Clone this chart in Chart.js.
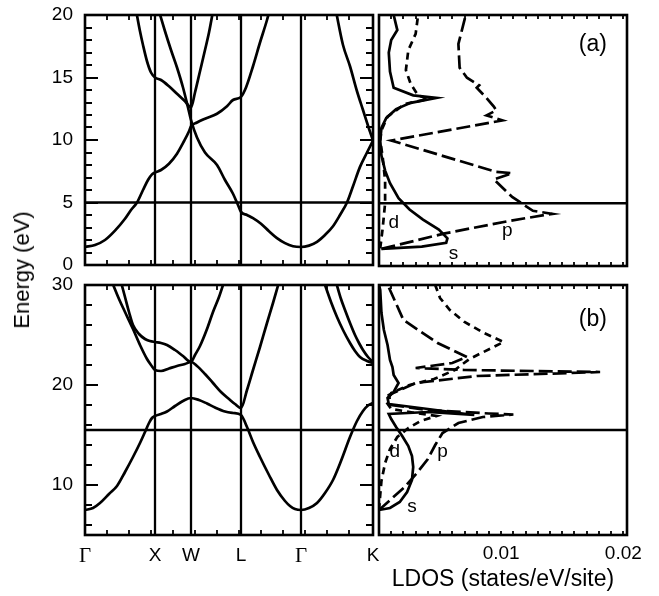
<!DOCTYPE html>
<html>
<head>
<meta charset="utf-8">
<script src="https://cdn.jsdelivr.net/npm/chart.js@4.4.1/dist/chart.umd.min.js"></script>
<style>
  html, body { margin: 0; padding: 0; background: #fff; }
  #fig { position: relative; width: 659px; height: 596px; overflow: hidden; font-family: "Liberation Sans", Arial, sans-serif; }
  #fig canvas { position: absolute; }
  #ylabel { position: absolute; left: 22px; top: 270px; transform: translate(-50%, -50%) rotate(-90deg); font-size: 22px; white-space: nowrap; color: #000; }
</style>
</head>
<body>
<div id="fig">
  <canvas id="bandA" width="380" height="280" style="left:0;top:0"></canvas>
  <canvas id="ldosA" width="283" height="280" style="left:376px;top:0"></canvas>
  <canvas id="bandB" width="380" height="326" style="left:0;top:270px"></canvas>
  <canvas id="ldosB" width="283" height="326" style="left:376px;top:270px"></canvas>
  <div id="ylabel">Energy (eV)</div>
</div>
<script>
"use strict";

// k-path positions (path length units) and their labels
const kPoints = [0, 70, 106, 156, 216, 288];
const kLabels = ["Γ", "X", "W", "L", "Γ", "K"];
const energyTicksA = [0, 5, 10, 15, 20];
const energyTicksB = [10, 20, 30];
const ldosTicks = [0.01, 0.02];
const fermiA = 5;
const fermiB = 15.5;

// panel (a) bands: [k, E]
const bandA1 = [[0,1.44],[10,1.6],[20,2.0],[30,2.75],[40,3.7],[46,4.4],[52,5.0],[58,6.0],[63,6.8],[67,7.25],[70,7.4],[76,7.6],[84,8.1],[92,8.9],[99,9.9],[104,10.7],[106,11.1],[112,11.4],[120,11.7],[132,12.1],[142,12.7],[148,13.2],[156,13.45],[161,14.2],[168,15.9],[175,17.8],[182,19.6],[184,20.2]];
const bandA2 = [[51,20.4],[55,18.7],[58,17.6],[62,16.3],[66,15.4],[70,15.0],[76,14.8],[84,14.3],[92,13.7],[100,13.1],[106,12.6],[110,13.8],[115,15.5],[120,17.2],[124,18.6],[128,20.3]];
const bandA3 = [[74,20.3],[80,18.7],[86,17.2],[92,15.8],[98,14.2],[103,12.6],[106,11.6],[112,10.2],[120,9.0],[132,8.0],[140,6.8],[148,5.7],[153,4.8],[156,4.25],[162,4.0],[168,3.75],[176,3.3],[184,2.7],[192,2.15],[200,1.75],[208,1.5],[216,1.44],[224,1.55],[232,1.85],[240,2.4],[248,3.1],[255,4.0],[262,5.0],[268,6.3],[275,7.85],[282,9.0],[288,9.95]];
const bandA4 = [[251,20.3],[258,17.6],[265,15.9],[272,13.9],[278,12.4],[284,10.9],[288,9.95]];

// panel (b) bands: [k, E]
const bandB1 = [[0,7.5],[8,7.7],[15,8.2],[24,9.1],[32,9.9],[40,11.3],[48,12.8],[55,14.2],[60,15.3],[64,16.2],[67,16.7],[70,16.9],[76,17.1],[82,17.35],[90,17.9],[98,18.4],[106,18.7],[114,18.5],[122,18.15],[130,17.75],[140,17.35],[148,17.2],[156,17.0],[162,15.8],[168,14.3],[175,12.8],[184,11.0],[192,9.5],[200,8.4],[205,7.9],[210,7.6],[216,7.5],[224,7.7],[232,8.2],[240,9.2],[248,10.5],[256,12.4],[265,14.8],[272,16.4],[278,17.4],[283,17.95],[288,18.2]];
const bandB2 = [[27,30.3],[34,28.6],[40,27.3],[48,25.6],[55,24.0],[62,22.6],[66,22.0],[70,21.5],[76,21.4],[84,21.65],[92,21.9],[100,22.1],[106,22.3],[112,21.9],[120,21.1],[128,20.2],[136,19.3],[144,18.6],[150,18.1],[156,17.7],[162,19.5],[168,21.5],[175,23.8],[182,26.2],[188,28.2],[194,30.3]];
const bandB3 = [[36,30.3],[40,28.8],[44,27.3],[48,26.0],[54,25.1],[60,24.6],[65,24.4],[70,24.3],[76,24.2],[82,24.0],[90,23.5],[98,22.9],[106,22.3],[110,23.0],[115,23.9],[122,25.6],[128,27.3],[134,28.8],[139,30.3]];
const bandB4 = [[239,30.3],[246,28.3],[252,26.8],[258,25.5],[265,24.2],[270,23.4],[275,22.8],[282,22.4],[288,22.2]];
const bandB5 = [[251,30.3],[256,28.6],[260,27.5],[265,26.2],[270,25.0],[274,24.2],[278,23.5],[283,22.8],[288,22.3]];

// LDOS: [states/eV/site, E]
const ldosA_s = [[0.0002,1.36],[0.0035,1.55],[0.0055,1.85],[0.0056,2.2],[0.0049,2.9],[0.0036,3.7],[0.0025,4.5],[0.0016,5.4],[0.0009,6.6],[0.0005,7.6],[0.0002,8.8],[0.0001,10.0],[0.0002,11.0],[0.0006,11.8],[0.0014,12.5],[0.0026,13.0],[0.0047,13.4],[0.0028,13.6],[0.0012,14.2],[0.0009,15.5],[0.0008,17.0],[0.0010,18.0],[0.0015,18.8],[0.0012,20.0]];
const ldosA_p = [[0.0002,1.36],[0.0054,2.6],[0.0107,3.6],[0.0135,4.05],[0.0142,4.15],[0.0126,4.4],[0.0109,5.5],[0.0094,6.9],[0.0109,7.4],[0.0096,7.5],[0.001,10.0],[0.0101,11.6],[0.0088,12.0],[0.0096,12.4],[0.0094,12.7],[0.0087,13.5],[0.008,14.2],[0.0082,14.4],[0.0072,15.0],[0.0066,15.8],[0.0065,17.7],[0.0071,20.0]];
const ldosA_d = [[0.0001,1.4],[0.0003,3.0],[0.0005,5.0],[0.0005,6.8],[0.0003,8.7],[0.0001,10.0],[0.0002,10.8],[0.0007,11.9],[0.0021,12.9],[0.004,13.3],[0.0032,13.6],[0.0026,14.5],[0.0022,15.6],[0.0024,17.2],[0.003,18.5],[0.0032,20.0]];

const ldosB_s = [[0,7.5],[0.0009,7.7],[0.0017,8.3],[0.0023,9.3],[0.0027,10.5],[0.0028,11.8],[0.0027,12.9],[0.0024,13.9],[0.0019,14.9],[0.0014,15.8],[0.0010,16.6],[0.0008,17.1],[0.0040,17.3],[0.0078,17.0],[0.0040,17.6],[0.0008,18.1],[0.0007,18.7],[0.0012,19.3],[0.0016,20.2],[0.0012,21.0],[0.0011,21.8],[0.0009,22.5],[0.0007,24.0],[0.0004,25.5],[0.0002,27.2],[0.0001,29.5],[0,30]];
const ldosB_d = [[0,7.5],[0.0001,9.0],[0.0002,10.4],[0.0005,12.2],[0.0009,13.6],[0.0015,14.8],[0.0024,15.7],[0.0034,16.4],[0.0047,16.9],[0.0030,17.2],[0.0010,17.6],[0.0006,18.3],[0.0010,19.2],[0.0025,20.0],[0.0045,20.6],[0.0062,21.5],[0.0074,22.6],[0.0102,24.3],[0.0086,25.2],[0.0070,26.3],[0.0058,27.5],[0.0050,28.7],[0.0046,30]];
const ldosB_p = [[0,7.5],[0.0010,8.6],[0.0021,9.8],[0.0031,11.2],[0.0040,12.6],[0.0046,14.0],[0.0052,15.2],[0.0065,16.2],[0.0085,16.8],[0.0110,17.05],[0.0090,17.15],[0.0040,17.5],[0.0010,18.0],[0.0008,19.0],[0.0030,20.2],[0.0080,20.9],[0.0181,21.3],[0.0070,21.5],[0.0030,21.7],[0.0060,22.2],[0.0072,22.8],[0.0048,24.2],[0.0020,26.5],[0.0009,29.5],[0.0007,30]];

const FONT = '"Liberation Sans", Arial, sans-serif';
Chart.defaults.font.family = FONT;
Chart.defaults.color = "#000";

const DASH_P = [14, 5];
const DASH_D = [7, 5];
const LINE_W = 2.7;

function curve(points, dash, smooth) {
  return {
    data: points.map(([x, y]) => ({ x, y })),
    borderColor: "#000",
    borderWidth: LINE_W,
    borderDash: dash || [],
    pointRadius: 0,
    showLine: true,
    fill: false,
    tension: 0,
    cubicInterpolationMode: smooth ? "monotone" : "default"
  };
}

// frame, inward ticks, symmetry lines, reference line and panel text
function framePlugin(o) {
  return {
    id: "frame",
    afterDatasetsDraw(chart) {
      const { ctx, chartArea: a } = chart;
      const x = chart.scales.x;
      const y = chart.scales.y;
      const seg = (x1, y1, x2, y2, w) => {
        ctx.lineWidth = w;
        ctx.beginPath();
        ctx.moveTo(x1, y1);
        ctx.lineTo(x2, y2);
        ctx.stroke();
      };
      ctx.save();
      ctx.strokeStyle = "#000";
      ctx.setLineDash([]);
      (o.vlines || []).forEach((v) => {
        const px = Math.round(x.getPixelForValue(v));
        seg(px, a.top, px, a.bottom, 2.3);
      });
      if (o.hline != null) {
        const py = y.getPixelForValue(o.hline);
        seg(a.left, py, a.right, py, 2.3);
      }
      if (o.yMinor) {
        const start = Math.ceil(y.min / o.yMinor);
        const end = Math.floor(y.max / o.yMinor);
        for (let i = start; i <= end; i += 1) {
          const v = i * o.yMinor;
          if (v <= y.min || v >= y.max) continue;
          const major = Math.abs(v / o.yMajor - Math.round(v / o.yMajor)) < 1e-6;
          const len = major ? 13 : 7;
          const py = Math.round(y.getPixelForValue(v));
          seg(a.left, py, a.left + len, py, 2);
          seg(a.right - len, py, a.right, py, 2);
        }
      }
      if (o.xMinor) {
        const n = Math.floor((x.max - x.min) / o.xMinor + 1e-6);
        for (let i = 1; i <= n; i += 1) {
          const px = Math.round(x.getPixelForValue(x.min + i * o.xMinor));
          if (px >= a.right - 2) continue;
          seg(px, a.top, px, a.top + o.xLen, 1.8);
          seg(px, a.bottom - o.xLen, px, a.bottom, 1.8);
        }
      }
      ctx.lineWidth = 2.6;
      ctx.strokeRect(a.left, a.top, a.width, a.height);
      ctx.fillStyle = "#000";
      ctx.textAlign = "center";
      ctx.textBaseline = "middle";
      (o.labels || []).forEach((l) => {
        ctx.font = `${l.size || 19}px ${FONT}`;
        ctx.fillText(l.text, x.getPixelForValue(l.x), y.getPixelForValue(l.y));
      });
      ctx.restore();
    }
  };
}

const noPad = (s) => {
  s.paddingLeft = 0;
  s.paddingRight = 0;
  s.paddingTop = 0;
  s.paddingBottom = 0;
};

function energyAxis(min, max, ticks) {
  return {
    type: "linear",
    min,
    max,
    afterBuildTicks: (s) => { s.ticks = ticks.map((v) => ({ value: v })); },
    afterFit: (s) => { s.width = 85; noPad(s); },
    grid: { display: false, drawTicks: false },
    border: { display: false },
    ticks: { font: { size: 19 }, color: "#000", padding: 12 }
  };
}

function kAxis(show) {
  const axis = {
    type: "linear",
    min: 0,
    max: 288,
    display: show,
    grid: { display: false, drawTicks: false },
    border: { display: false }
  };
  if (show) {
    axis.afterBuildTicks = (s) => { s.ticks = kPoints.map((v) => ({ value: v })); };
    axis.afterFit = (s) => { s.height = 61; noPad(s); };
    axis.ticks = {
      autoSkip: false,
      maxRotation: 0,
      padding: 9,
      color: "#000",
      callback: (v, i) => kLabels[i],
      font: (c) => (kLabels[c.index] === "Γ"
        ? { family: '"Liberation Serif", "Times New Roman", serif', size: 21 }
        : { family: FONT, size: 19 })
    };
  }
  return axis;
}

function baseOptions(padding, scales) {
  return {
    responsive: false,
    animation: false,
    layout: { padding },
    plugins: { legend: { display: false }, tooltip: { enabled: false } },
    scales
  };
}

new Chart(document.getElementById("bandA"), {
  type: "scatter",
  data: { datasets: [bandA1, bandA2, bandA3, bandA4].map((b) => curve(b, null, true)) },
  options: baseOptions(
    { top: 15, right: 7, bottom: 15, left: 0 },
    { x: kAxis(false), y: energyAxis(0, 20, energyTicksA) }
  ),
  plugins: [framePlugin({ vlines: kPoints.slice(1, -1), hline: fermiA, yMinor: 1, yMajor: 5, xMinor: 22, xLen: 5 })]
});

new Chart(document.getElementById("bandB"), {
  type: "scatter",
  data: { datasets: [bandB1, bandB2, bandB3, bandB4, bandB5].map((b) => curve(b, null, true)) },
  options: baseOptions(
    { top: 15, right: 7, bottom: 0, left: 0 },
    { x: kAxis(true), y: energyAxis(5, 30, energyTicksB) }
  ),
  plugins: [framePlugin({ vlines: kPoints.slice(1, -1), hline: fermiB, yMinor: 2, yMajor: 10, xMinor: 22, xLen: 5 })]
});

new Chart(document.getElementById("ldosA"), {
  type: "scatter",
  data: { datasets: [curve(ldosA_s), curve(ldosA_p, DASH_P), curve(ldosA_d, DASH_D)] },
  options: baseOptions(
    { top: 15, right: 32, bottom: 14, left: 3 },
    {
      x: { type: "linear", min: 0, max: 0.0203, display: false },
      y: { type: "linear", min: 0, max: 20, display: false }
    }
  ),
  plugins: [framePlugin({
    hline: fermiA, xMinor: 0.001, xLen: 4,
    labels: [
      { text: "(a)", x: 0.0175, y: 17.6, size: 23 },
      { text: "d", x: 0.0012, y: 3.45 },
      { text: "p", x: 0.0105, y: 2.8 },
      { text: "s", x: 0.0061, y: 1.0 }
    ]
  })]
});

new Chart(document.getElementById("ldosB"), {
  type: "scatter",
  data: { datasets: [curve(ldosB_s), curve(ldosB_p, DASH_P), curve(ldosB_d, DASH_D)] },
  options: baseOptions(
    { top: 15, right: 32, bottom: 0, left: 3 },
    {
      x: {
        type: "linear",
        min: 0,
        max: 0.0203,
        afterBuildTicks: (s) => { s.ticks = ldosTicks.map((v) => ({ value: v })); },
        afterFit: (s) => { s.height = 61; noPad(s); },
        grid: { display: false, drawTicks: false },
        border: { display: false },
        ticks: { font: { size: 19 }, color: "#000", padding: 7, maxRotation: 0, autoSkip: false, callback: (v) => String(v) },
        title: { display: true, text: "LDOS (states/eV/site)", font: { size: 23 }, color: "#000", padding: { top: 2, bottom: 3 } }
      },
      y: { type: "linear", min: 5, max: 30, display: false }
    }
  ),
  plugins: [framePlugin({
    hline: fermiB, xMinor: 0.001, xLen: 4,
    labels: [
      { text: "(b)", x: 0.0175, y: 26.5, size: 23 },
      { text: "d", x: 0.0013, y: 13.3 },
      { text: "p", x: 0.0052, y: 13.3 },
      { text: "s", x: 0.0027, y: 7.8 }
    ]
  })]
});
</script>
</body>
</html>
